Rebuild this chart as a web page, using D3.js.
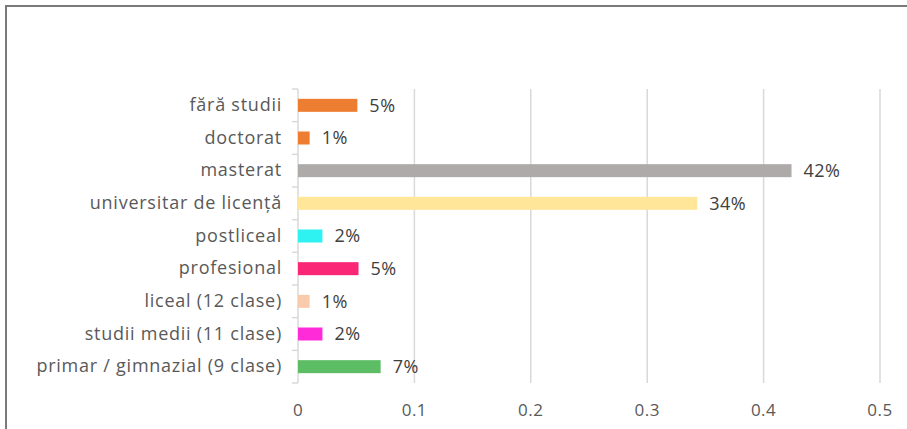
<!DOCTYPE html>
<html>
<head>
<meta charset="utf-8">
<script src="https://cdn.jsdelivr.net/npm/d3@7"></script>
<style>
  body { margin: 0; background: #fff; }
  text { font-family: "Open Sans", "Noto Sans", sans-serif; }
</style>
</head>
<body>
<div id="chart"></div>
<script>
// categories top to bottom
const categories = ["fără studii", "doctorat", "masterat", "universitar de licență", "postliceal",
    "profesional", "liceal (12 clase)", "studii medii (11 clase)", "primar / gimnazial (9 clase)"];
const values = [0.051, 0.010, 0.424, 0.343, 0.021, 0.052, 0.010, 0.021, 0.071];
const barColors = ["#ED7D31", "#ED7D31", "#AEAAAA", "#FFE699", "#2EF2F2",
    "#FA2776", "#F8CBAD", "#FF2BD8", "#5CBD64"];
const xTicks = [0, 0.1, 0.2, 0.3, 0.4, 0.5];

const width = 907, height = 429;
const margin = {top: 89, left: 298, right: 27, bottom: 46};

const svg = d3.select("#chart").append("svg")
    .attr("width", width)
    .attr("height", height);

// outer frame (only left and top visible)
svg.append("path")
    .attr("d", `M6,${height} V6 H${width}`)
    .attr("fill", "none")
    .attr("stroke", "#7a7a7a")
    .attr("stroke-width", 2);

const x = d3.scaleLinear().domain([0, 0.5]).range([margin.left, width - margin.right]);
const y = d3.scaleBand().domain(categories).range([margin.top, height - margin.bottom]);

// gridlines
svg.append("g").selectAll("line")
    .data(xTicks.slice(1))
    .join("line")
    .attr("x1", d => x(d)).attr("x2", d => x(d))
    .attr("y1", margin.top).attr("y2", height - margin.bottom)
    .attr("stroke", "#D9D9D9")
    .attr("stroke-width", 1.5);

// x tick labels
svg.append("g").selectAll("text")
    .data(xTicks)
    .join("text")
    .attr("x", d => x(d))
    .attr("y", 416)
    .attr("text-anchor", "middle")
    .attr("font-size", 17)
    .attr("letter-spacing", 0.5)
    .attr("fill", "#595959")
    .text(d => d3.format("")(d));

// category axis
const yAxis = svg.append("g")
    .attr("transform", `translate(${margin.left},0)`)
    .call(d3.axisLeft(y).tickSize(0).tickPadding(16));
yAxis.select(".domain").remove();
yAxis.selectAll("text")
    .attr("font-size", 18)
    .attr("letter-spacing", 0.75)
    .attr("fill", "#595959")
    .style("font-family", '"Open Sans", sans-serif');

svg.append("line")
    .attr("x1", margin.left).attr("x2", margin.left)
    .attr("y1", margin.top).attr("y2", height - margin.bottom)
    .attr("stroke", "#D9D9D9").attr("stroke-width", 1.5);

const bounds = categories.map(c => y(c)).concat([height - margin.bottom]);
svg.append("g").selectAll("line")
    .data(bounds)
    .join("line")
    .attr("x1", margin.left - 6).attr("x2", margin.left)
    .attr("y1", d => d).attr("y2", d => d)
    .attr("stroke", "#D9D9D9").attr("stroke-width", 1.5);

// bars
const barH = 13;
svg.append("g").selectAll("rect")
    .data(categories)
    .join("rect")
    .attr("x", x(0))
    .attr("y", d => y(d) + y.bandwidth() / 2 - barH / 2)
    .attr("width", (d, i) => x(values[i]) - x(0))
    .attr("height", barH)
    .attr("fill", (d, i) => barColors[i]);

// value labels
svg.append("g").selectAll("text")
    .data(categories)
    .join("text")
    .attr("x", (d, i) => x(values[i]) + 12)
    .attr("y", d => y(d) + y.bandwidth() / 2)
    .attr("dy", "0.35em")
    .attr("font-size", 18)
    .attr("letter-spacing", 0.5)
    .attr("fill", "#404040")
    .text((d, i) => Math.round(values[i] * 100) + "%");
</script>
</body>
</html>
